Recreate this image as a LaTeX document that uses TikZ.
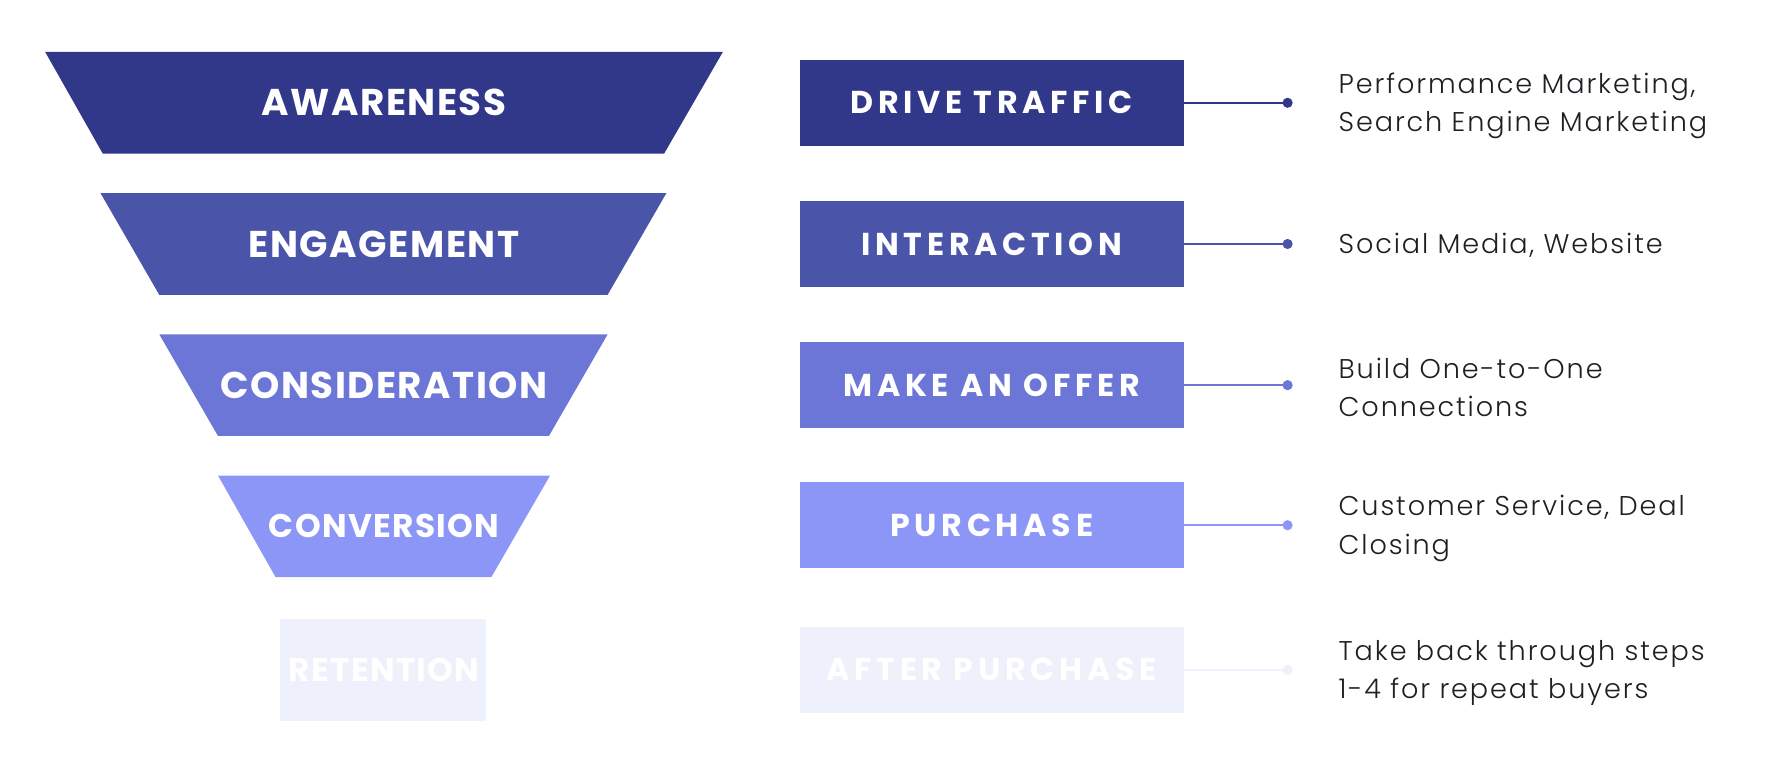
\documentclass[tikz,border=0pt]{standalone}
\usepackage{fontspec}
\setmainfont{Poppins}
\newfontfamily\stagefont[LetterSpace=4]{Poppins}
\newfontfamily\descfont[LetterSpace=7]{Poppins Light}
\newfontfamily\capsfont[LetterSpace=15]{Poppins}
\definecolor{lvla}{HTML}{31388A}
\definecolor{lvlb}{HTML}{4A55A9}
\definecolor{lvlc}{HTML}{6C76D6}
\definecolor{lvld}{HTML}{8C96F7}
\definecolor{lvle}{HTML}{EEF0FC}
\definecolor{ink}{HTML}{1E1E24}

\begin{document}
\begin{tikzpicture}[x=1pt,y=-1pt,
    stage/.style={text=white,inner sep=0pt,font=\stagefont\bfseries\fontsize{33}{33}\selectfont},
    small stage/.style={stage,font=\stagefont\bfseries\fontsize{29}{29}\selectfont},
    box/.style={minimum width=340pt,minimum height=76pt,inner sep=0pt,text=white,
      font=\capsfont\bfseries\fontsize{28}{28}\selectfont},
    link/.style={line width=2pt},
    desc/.style={anchor=west,align=left,text=ink,inner sep=0pt,
      font=\descfont\fontsize{24}{34}\selectfont}]
  \useasboundingbox (0,0) rectangle (1568,671);

  % funnel
  \fill[lvla] (40,46) -- (640,46) -- (588,136) -- (91,136) -- cycle;
  \fill[lvlb] (89,171) -- (590,171) -- (538,261) -- (141,261) -- cycle;
  \fill[lvlc] (141,296) -- (538,296) -- (486,386) -- (193,386) -- cycle;
  \fill[lvld] (193,421) -- (487,421) -- (435,511) -- (244,511) -- cycle;
  \fill[lvle] (248,548) rectangle (430,638);

  \node[stage] (aware) at (340,91) {AWARENESS};
  \node[stage] (engage) at (340,216) {ENGAGEMENT};
  \node[stage] (consider) at (340,341) {CONSIDERATION};
  \node[small stage] (convert) at (340,466) {CONVERSION};
  \node[small stage] (retain) at (340,593) {RETENTION};

  % actions
  \node[box,fill=lvla] (traffic) at (878,91) {DRIVE TRAFFIC};
  \node[box,fill=lvlb] (interact) at (878,216) {INTERACTION};
  \node[box,fill=lvlc] (offer) at (878,341) {MAKE AN OFFER};
  \node[box,fill=lvld] (purchase) at (878,465) {PURCHASE};
  \node[box,fill=lvle] (after) at (878,593) {AFTER PURCHASE};

  % connectors
  \foreach \b/\c/\y in {traffic/lvla/91,interact/lvlb/216,offer/lvlc/341,purchase/lvld/465,after/lvle/593}{
    \coordinate (\b-dot) at (1140,\y);
    \draw[link,\c] (\b) -- (\b-dot);
    \fill[\c] (\b-dot) circle (4.5);
  }

  % channels
  \node[desc] (d1) at (1185,94) {Performance Marketing,\\Search Engine Marketing};
  \node[desc] (d2) at (1185,217) {Social Media, Website};
  \node[desc] (d3) at (1185,343) {Build One-to-One\\Connections};
  \node[desc] (d4) at (1185,468) {Customer Service, Deal\\Closing};
  \node[desc] (d5) at (1185,596) {Take back through steps\\1-4 for repeat buyers};
\end{tikzpicture}
\end{document}
